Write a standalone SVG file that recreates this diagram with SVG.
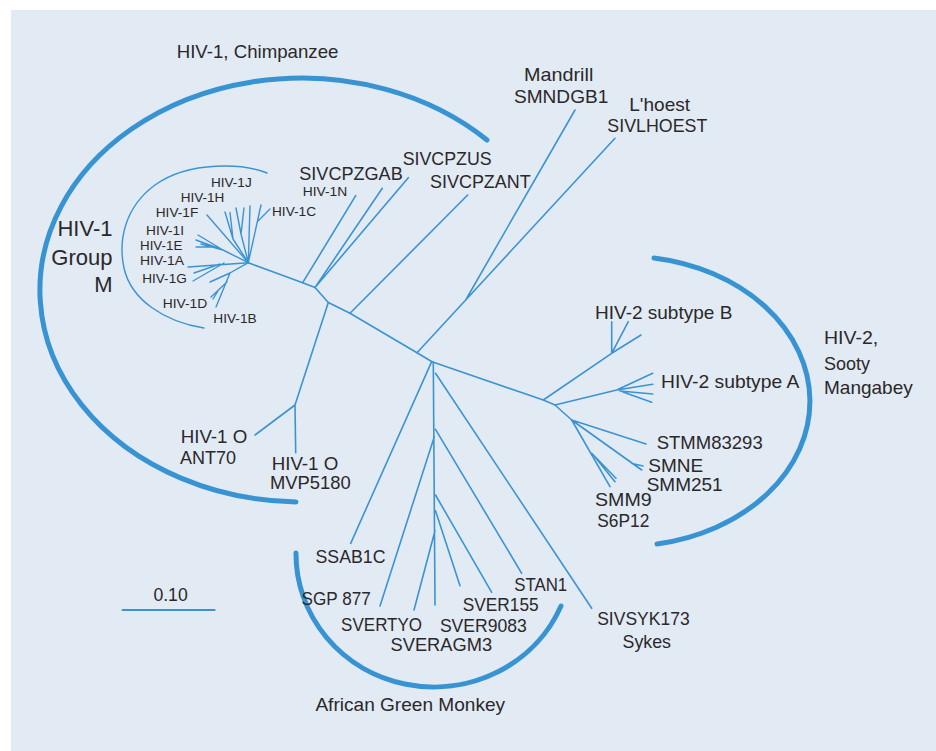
<svg xmlns="http://www.w3.org/2000/svg" width="936" height="751" viewBox="0 0 936 751">
  <style>
    .br { fill: none; stroke: #3b94d1; stroke-width: 1.6; stroke-linecap: round; stroke-linejoin: round; }
    .fine { stroke-width: 1.4; }
    .arc { fill: none; stroke: #3893d2; stroke-width: 5; stroke-linecap: round; }
    .thin { fill: none; stroke: #3b94d1; stroke-width: 1.4; stroke-linecap: round; }
    text { font-family: "Liberation Sans", Arial, sans-serif; font-size: 19px; fill: #2b2829; }
    .sm { font-size: 13.5px; }
    .big { font-size: 22px; text-anchor: end; }
  </style>

  <!-- panel -->
  <rect x="11" y="10" width="925" height="741" fill="#e2eaf4"/>

  <!-- clade arcs -->
  <g id="clade-arcs">
    <path class="arc" d="M487,140 A262 212 0 1 0 296,502"/>
    <path class="arc" d="M654,258 A185 145 0 0 1 657,544"/>
    <path class="arc" d="M296,553 A138 133 0 0 0 561,606"/>
    <path class="thin" d="M267,173 C245,164 190,160 155,185 C125,207 118,240 124,268 C131,300 165,322 204,328"/>
  </g>

  <!-- tree branches -->
  <g id="connectors">
    <!-- backbone -->
    <path class="br" d="M248.3,262.7 L302.7,282.7 L315,287.5 L328.3,302.5 L350,313.3 L417,352.7 L432,361.7 L543.3,400 L555,405 L571.7,420"/>
    <!-- chimpanzee SIVs and group N -->
    <path class="br" d="M302.7,282.7 L355.7,195.7 M315,287.5 L382.3,188.3 M315,287.5 L408.3,177.7 M350,313.3 L467.7,195"/>
    <!-- group O -->
    <path class="br" d="M328.3,302.5 L295,405 L255,435 M295,405 L295.7,452.7"/>
    <!-- mandrill / l'hoest -->
    <path class="br" d="M417,352.7 L465.7,300 L575,110 M465.7,300 L615,138.3"/>
    <!-- HIV-2 / sooty mangabey -->
    <path class="br" d="M543.3,400 L611.7,353.3 L641,335 M611.7,353.3 L611.7,321.7 M611.7,353.3 L628.3,321.7"/>
    <path class="br" d="M555,405 L616.7,390 L652.7,373.3 M616.7,390 L652.7,384.3 M620,391 L652.7,394 M623,392 L651.7,402.3"/>
    <path class="br" d="M571.7,420 L646,444 M571.7,420 L641.7,470 M632,463.5 L643,466 M571.7,420 L610,486.7 M591.7,453.3 L616,478.3 M595,457 L615,481.7"/>
    <!-- african green monkey and others -->
    <path class="br" d="M431.7,361.7 L350.7,543.3 M433.3,362 L435,605 M435.5,373.3 L591.7,608.3 M435.5,429.3 L521.7,573.3 M434.3,436.7 L380,606 M435.5,495 L491.7,592.3 M435.5,510.7 L460,585.7 M435,530.7 L414,610"/>
    <!-- group M -->
    <path class="br fine" d="M248.3,262.7 L261,205 M258,221 L270,209 M248.3,262.7 L250,206 M248.3,262.7 L241,234 L236,208 M241,234 L244,208 M248.3,262.7 L233,239 L225,212 M233,239 L230,212.5"/>
    <path class="br fine" d="M248.3,262.7 L207,215 M248.3,262.7 L223,250 L198,235 M223,250 L196,240 M217,247 L196,247 M223,250 L201,244"/>
    <path class="br fine" d="M248.3,262.7 L188,267 M220,264 L194,273 M224,263 L193,281"/>
    <path class="br fine" d="M248.3,262.7 L230,273 L216,307 M230,273 L210,282 M227,282 L211,297 M218,291 L213,299"/>
    <!-- scale bar -->
    <path class="br" style="stroke-width:2" d="M122.5,610 L214.6,610"/>
  </g>

  <!-- clade titles -->
  <g id="title-chimp"><text x="176.7" y="58.3" textLength="161.7" lengthAdjust="spacingAndGlyphs">HIV-1, Chimpanzee</text></g>
  <g id="title-group-m">
    <text class="big" x="112.5" y="236">HIV-1</text>
    <text class="big" x="112.5" y="265">Group</text>
    <text class="big" x="112.5" y="292">M</text>
  </g>
  <g id="title-sooty">
    <text x="824" y="344.3" textLength="54.3" lengthAdjust="spacingAndGlyphs">HIV-2,</text>
    <text x="824" y="370" textLength="46" lengthAdjust="spacingAndGlyphs">Sooty</text>
    <text x="824" y="394" textLength="88.7" lengthAdjust="spacingAndGlyphs">Mangabey</text>
  </g>
  <g id="title-agm"><text x="315.4" y="710.7" textLength="189.7" lengthAdjust="spacingAndGlyphs">African Green Monkey</text></g>
  <g id="scale-label"><text x="153.4" y="600.7" textLength="34.3" lengthAdjust="spacingAndGlyphs">0.10</text></g>

  <!-- group M leaves -->
  <g id="leaf-HIV-1J"><text class="sm" x="211" y="186.7" textLength="40.7" lengthAdjust="spacingAndGlyphs">HIV-1J</text></g>
  <g id="leaf-HIV-1H"><text class="sm" x="180.7" y="201.7" textLength="43.6" lengthAdjust="spacingAndGlyphs">HIV-1H</text></g>
  <g id="leaf-HIV-1F"><text class="sm" x="155.7" y="216.7" textLength="42.6" lengthAdjust="spacingAndGlyphs">HIV-1F</text></g>
  <g id="leaf-HIV-1I"><text class="sm" x="146" y="235" textLength="38" lengthAdjust="spacingAndGlyphs">HIV-1I</text></g>
  <g id="leaf-HIV-1E"><text class="sm" x="140" y="250" textLength="42.3" lengthAdjust="spacingAndGlyphs">HIV-1E</text></g>
  <g id="leaf-HIV-1A"><text class="sm" x="140" y="265" textLength="44" lengthAdjust="spacingAndGlyphs">HIV-1A</text></g>
  <g id="leaf-HIV-1G"><text class="sm" x="142.3" y="283.3" textLength="44.4" lengthAdjust="spacingAndGlyphs">HIV-1G</text></g>
  <g id="leaf-HIV-1D"><text class="sm" x="162.7" y="307.7" textLength="44.6" lengthAdjust="spacingAndGlyphs">HIV-1D</text></g>
  <g id="leaf-HIV-1B"><text class="sm" x="213.3" y="322.7" textLength="43.4" lengthAdjust="spacingAndGlyphs">HIV-1B</text></g>
  <g id="leaf-HIV-1C"><text class="sm" x="272" y="216" textLength="44" lengthAdjust="spacingAndGlyphs">HIV-1C</text></g>
  <g id="leaf-HIV-1N"><text class="sm" x="302.7" y="196" textLength="44.6" lengthAdjust="spacingAndGlyphs">HIV-1N</text></g>

  <!-- chimpanzee and other primate leaves -->
  <g id="leaf-SIVCPZGAB"><text x="299.3" y="180" textLength="103.4" lengthAdjust="spacingAndGlyphs">SIVCPZGAB</text></g>
  <g id="leaf-SIVCPZUS"><text x="402.7" y="165" textLength="89" lengthAdjust="spacingAndGlyphs">SIVCPZUS</text></g>
  <g id="leaf-SIVCPZANT"><text x="430" y="187.7" textLength="100.7" lengthAdjust="spacingAndGlyphs">SIVCPZANT</text></g>
  <g id="leaf-mandrill">
    <text x="524" y="80.7" textLength="69.3" lengthAdjust="spacingAndGlyphs">Mandrill</text>
    <text x="514" y="103.3" textLength="94.3" lengthAdjust="spacingAndGlyphs">SMNDGB1</text>
  </g>
  <g id="leaf-lhoest">
    <text x="629.3" y="110.7" textLength="60.7" lengthAdjust="spacingAndGlyphs">L'hoest</text>
    <text x="607.3" y="131.7" textLength="100" lengthAdjust="spacingAndGlyphs">SIVLHOEST</text>
  </g>
  <g id="leaf-ANT70">
    <text x="180.7" y="443.3" textLength="66.6" lengthAdjust="spacingAndGlyphs">HIV-1 O</text>
    <text x="180" y="464.3" textLength="56" lengthAdjust="spacingAndGlyphs">ANT70</text>
  </g>
  <g id="leaf-MVP5180">
    <text x="271.7" y="470" textLength="66.6" lengthAdjust="spacingAndGlyphs">HIV-1 O</text>
    <text x="270" y="489.3" textLength="80.7" lengthAdjust="spacingAndGlyphs">MVP5180</text>
  </g>

  <!-- HIV-2 leaves -->
  <g id="leaf-HIV-2B"><text x="595" y="319" textLength="137.3" lengthAdjust="spacingAndGlyphs">HIV-2 subtype B</text></g>
  <g id="leaf-HIV-2A"><text x="661" y="387.7" textLength="138.3" lengthAdjust="spacingAndGlyphs">HIV-2 subtype A</text></g>
  <g id="leaf-STMM83293"><text x="656.7" y="449.3" textLength="106" lengthAdjust="spacingAndGlyphs">STMM83293</text></g>
  <g id="leaf-SMNE"><text x="648.3" y="471.7" textLength="55" lengthAdjust="spacingAndGlyphs">SMNE</text></g>
  <g id="leaf-SMM251"><text x="646.7" y="490.7" textLength="76" lengthAdjust="spacingAndGlyphs">SMM251</text></g>
  <g id="leaf-SMM9"><text x="595" y="505.7" textLength="56.7" lengthAdjust="spacingAndGlyphs">SMM9</text></g>
  <g id="leaf-S6P12"><text x="597.3" y="526.7" textLength="52" lengthAdjust="spacingAndGlyphs">S6P12</text></g>

  <!-- african green monkey and sykes leaves -->
  <g id="leaf-SSAB1C"><text x="315.5" y="562.5" textLength="70" lengthAdjust="spacingAndGlyphs">SSAB1C</text></g>
  <g id="leaf-SGP877"><text x="301.6" y="605" textLength="69.2" lengthAdjust="spacingAndGlyphs">SGP 877</text></g>
  <g id="leaf-SVERTYO"><text x="341.1" y="630.7" textLength="81" lengthAdjust="spacingAndGlyphs">SVERTYO</text></g>
  <g id="leaf-SVERAGM3"><text x="390.5" y="650.7" textLength="101.6" lengthAdjust="spacingAndGlyphs">SVERAGM3</text></g>
  <g id="leaf-SVER9083"><text x="439.9" y="631.7" textLength="87" lengthAdjust="spacingAndGlyphs">SVER9083</text></g>
  <g id="leaf-SVER155"><text x="462.8" y="610.7" textLength="75.9" lengthAdjust="spacingAndGlyphs">SVER155</text></g>
  <g id="leaf-STAN1"><text x="514.2" y="590.7" textLength="53" lengthAdjust="spacingAndGlyphs">STAN1</text></g>
  <g id="leaf-SIVSYK173">
    <text x="597.2" y="625" textLength="92.5" lengthAdjust="spacingAndGlyphs">SIVSYK173</text>
    <text x="622.5" y="647.5" textLength="48.5" lengthAdjust="spacingAndGlyphs">Sykes</text>
  </g>
</svg>
